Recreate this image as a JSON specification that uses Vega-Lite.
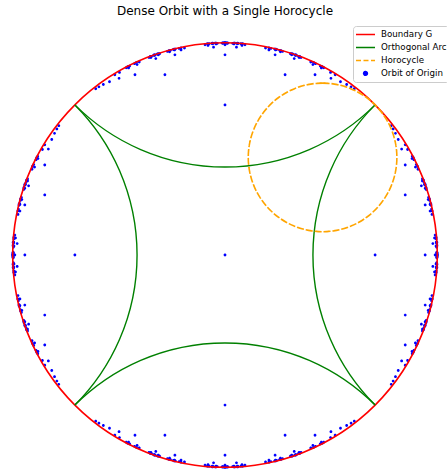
{
"$schema": "https://vega.github.io/schema/vega-lite/v6.json",
"width": 447, "height": 439,
"autosize": {"type": "none"},
"padding": {"left": 0, "right": 0, "top": 30, "bottom": 0},
"background": "white",
"title": {"text": "Dense Orbit with a Single Horocycle", "font": "DejaVu Sans", "fontSize": 12, "fontWeight": "normal", "color": "#000000", "anchor": "middle", "frame": "group", "baseline": "alphabetic", "offset": -1, "dx": 1.5},
"config": {"view": {"stroke": null}},
"layer": [
{
"data": {"values": [
{"x":0,"y":0},
{"x":0.7071,"y":0},{"x":-0.7071,"y":0},{"x":0,"y":0.7071},{"x":0,"y":-0.7071},
{"x":0.9428,"y":0},{"x":-0.9428,"y":0},{"x":0,"y":0.9428},{"x":0,"y":-0.9428},
{"x":0.99,"y":0},{"x":-0.99,"y":0},{"x":0,"y":0.99},{"x":0,"y":-0.99},
{"x":0.998,"y":0},{"x":-0.998,"y":0},{"x":0,"y":0.998},{"x":0,"y":-0.998},
{"x":0.9997,"y":0},{"x":-0.9997,"y":0},{"x":0,"y":0.9997},{"x":0,"y":-0.9997},
{"x":0.849,"y":0.283},{"x":0.849,"y":-0.283},{"x":-0.849,"y":0.283},{"x":-0.849,"y":-0.283},{"x":0.283,"y":0.849},{"x":-0.283,"y":0.849},{"x":0.283,"y":-0.849},{"x":-0.283,"y":-0.849},
{"x":0.979,"y":0.054},{"x":0.979,"y":-0.054},{"x":-0.979,"y":0.054},{"x":-0.979,"y":-0.054},{"x":0.054,"y":0.979},{"x":-0.054,"y":0.979},{"x":0.054,"y":-0.979},{"x":-0.054,"y":-0.979},
{"x":0.943,"y":0.236},{"x":0.943,"y":-0.236},{"x":-0.943,"y":0.236},{"x":-0.943,"y":-0.236},{"x":0.236,"y":0.943},{"x":-0.236,"y":0.943},{"x":0.236,"y":-0.943},{"x":-0.236,"y":-0.943},
{"x":0.925,"y":0.326},{"x":0.925,"y":-0.326},{"x":-0.925,"y":0.326},{"x":-0.925,"y":-0.326},{"x":0.326,"y":0.925},{"x":-0.326,"y":0.925},{"x":0.326,"y":-0.925},{"x":-0.326,"y":-0.925},
{"x":0.849,"y":0.424},{"x":0.849,"y":-0.424},{"x":-0.849,"y":0.424},{"x":-0.849,"y":-0.424},{"x":0.424,"y":0.849},{"x":-0.424,"y":0.849},{"x":0.424,"y":-0.849},{"x":-0.424,"y":-0.849},
{"x":0.997,"y":0.01},{"x":0.997,"y":-0.01},{"x":-0.997,"y":0.01},{"x":-0.997,"y":-0.01},{"x":0.01,"y":0.997},{"x":-0.01,"y":0.997},{"x":0.01,"y":-0.997},{"x":-0.01,"y":-0.997},
{"x":0.994,"y":0.042},{"x":0.994,"y":-0.042},{"x":-0.994,"y":0.042},{"x":-0.994,"y":-0.042},{"x":0.042,"y":0.994},{"x":-0.042,"y":0.994},{"x":0.042,"y":-0.994},{"x":-0.042,"y":-0.994},
{"x":0.995,"y":0.059},{"x":0.995,"y":-0.059},{"x":-0.995,"y":0.059},{"x":-0.995,"y":-0.059},{"x":0.059,"y":0.995},{"x":-0.059,"y":0.995},{"x":0.059,"y":-0.995},{"x":-0.059,"y":-0.995},
{"x":0.987,"y":0.08},{"x":0.987,"y":-0.08},{"x":-0.987,"y":0.08},{"x":-0.987,"y":-0.08},{"x":0.08,"y":0.987},{"x":-0.08,"y":0.987},{"x":0.08,"y":-0.987},{"x":-0.08,"y":-0.987},
{"x":0.94,"y":0.332},{"x":0.94,"y":-0.332},{"x":-0.94,"y":0.332},{"x":-0.94,"y":-0.332},{"x":0.332,"y":0.94},{"x":-0.332,"y":0.94},{"x":0.332,"y":-0.94},{"x":-0.332,"y":-0.94},
{"x":0.93,"y":0.349},{"x":0.93,"y":-0.349},{"x":-0.93,"y":0.349},{"x":-0.93,"y":-0.349},{"x":0.349,"y":0.93},{"x":-0.349,"y":0.93},{"x":0.349,"y":-0.93},{"x":-0.349,"y":-0.93},
{"x":0.943,"y":0.314},{"x":0.943,"y":-0.314},{"x":-0.943,"y":0.314},{"x":-0.943,"y":-0.314},{"x":0.314,"y":0.943},{"x":-0.314,"y":0.943},{"x":0.314,"y":-0.943},{"x":-0.314,"y":-0.943},
{"x":0.897,"y":0.414},{"x":0.897,"y":-0.414},{"x":-0.897,"y":0.414},{"x":-0.897,"y":-0.414},{"x":0.414,"y":0.897},{"x":-0.414,"y":0.897},{"x":0.414,"y":-0.897},{"x":-0.414,"y":-0.897},
{"x":0.881,"y":0.454},{"x":0.881,"y":-0.454},{"x":-0.881,"y":0.454},{"x":-0.881,"y":-0.454},{"x":0.454,"y":0.881},{"x":-0.454,"y":0.881},{"x":0.454,"y":-0.881},{"x":-0.454,"y":-0.881},
{"x":0.832,"y":0.499},{"x":0.832,"y":-0.499},{"x":-0.832,"y":0.499},{"x":-0.832,"y":-0.499},{"x":0.499,"y":0.832},{"x":-0.499,"y":0.832},{"x":0.499,"y":-0.832},{"x":-0.499,"y":-0.832},
{"x":0.957,"y":0.261},{"x":0.957,"y":-0.261},{"x":-0.957,"y":0.261},{"x":-0.957,"y":-0.261},{"x":0.261,"y":0.957},{"x":-0.261,"y":0.957},{"x":0.261,"y":-0.957},{"x":-0.261,"y":-0.957},
{"x":0.966,"y":0.238},{"x":0.966,"y":-0.238},{"x":-0.966,"y":0.238},{"x":-0.966,"y":-0.238},{"x":0.238,"y":0.966},{"x":-0.238,"y":0.966},{"x":0.238,"y":-0.966},{"x":-0.238,"y":-0.966},
{"x":0.966,"y":0.207},{"x":0.966,"y":-0.207},{"x":-0.966,"y":0.207},{"x":-0.966,"y":-0.207},{"x":0.207,"y":0.966},{"x":-0.207,"y":0.966},{"x":0.207,"y":-0.966},{"x":-0.207,"y":-0.966},
{"x":0.999,"y":0.002},{"x":0.999,"y":-0.002},{"x":-0.999,"y":0.002},{"x":-0.999,"y":-0.002},{"x":0.002,"y":0.999},{"x":-0.002,"y":0.999},{"x":0.002,"y":-0.999},{"x":-0.002,"y":-0.999},
{"x":0.999,"y":0.007},{"x":0.999,"y":-0.007},{"x":-0.999,"y":0.007},{"x":-0.999,"y":-0.007},{"x":0.007,"y":0.999},{"x":-0.007,"y":0.999},{"x":0.007,"y":-0.999},{"x":-0.007,"y":-0.999},
{"x":0.999,"y":0.01},{"x":0.999,"y":-0.01},{"x":-0.999,"y":0.01},{"x":-0.999,"y":-0.01},{"x":0.01,"y":0.999},{"x":-0.01,"y":0.999},{"x":0.01,"y":-0.999},{"x":-0.01,"y":-0.999},
{"x":0.998,"y":0.014},{"x":0.998,"y":-0.014},{"x":-0.998,"y":0.014},{"x":-0.998,"y":-0.014},{"x":0.014,"y":0.998},{"x":-0.014,"y":0.998},{"x":0.014,"y":-0.998},{"x":-0.014,"y":-0.998},
{"x":0.998,"y":0.059},{"x":0.998,"y":-0.059},{"x":-0.998,"y":0.059},{"x":-0.998,"y":-0.059},{"x":0.059,"y":0.998},{"x":-0.059,"y":0.998},{"x":0.059,"y":-0.998},{"x":-0.059,"y":-0.998},
{"x":0.997,"y":0.062},{"x":0.997,"y":-0.062},{"x":-0.997,"y":0.062},{"x":-0.997,"y":-0.062},{"x":0.062,"y":0.997},{"x":-0.062,"y":0.997},{"x":0.062,"y":-0.997},{"x":-0.062,"y":-0.997},
{"x":0.997,"y":0.056},{"x":0.997,"y":-0.056},{"x":-0.997,"y":0.056},{"x":-0.997,"y":-0.056},{"x":0.056,"y":0.997},{"x":-0.056,"y":0.997},{"x":0.056,"y":-0.997},{"x":-0.056,"y":-0.997},
{"x":0.995,"y":0.075},{"x":0.995,"y":-0.075},{"x":-0.995,"y":0.075},{"x":-0.995,"y":-0.075},{"x":0.075,"y":0.995},{"x":-0.075,"y":0.995},{"x":0.075,"y":-0.995},{"x":-0.075,"y":-0.995},
{"x":0.995,"y":0.083},{"x":0.995,"y":-0.083},{"x":-0.995,"y":0.083},{"x":-0.995,"y":-0.083},{"x":0.083,"y":0.995},{"x":-0.083,"y":0.995},{"x":0.083,"y":-0.995},{"x":-0.083,"y":-0.995},
{"x":0.99,"y":0.094},{"x":0.99,"y":-0.094},{"x":-0.99,"y":0.094},{"x":-0.99,"y":-0.094},{"x":0.094,"y":0.99},{"x":-0.094,"y":0.99},{"x":0.094,"y":-0.99},{"x":-0.094,"y":-0.99},
{"x":0.998,"y":0.046},{"x":0.998,"y":-0.046},{"x":-0.998,"y":0.046},{"x":-0.998,"y":-0.046},{"x":0.046,"y":0.998},{"x":-0.046,"y":0.998},{"x":0.046,"y":-0.998},{"x":-0.046,"y":-0.998},
{"x":0.998,"y":0.042},{"x":0.998,"y":-0.042},{"x":-0.998,"y":0.042},{"x":-0.998,"y":-0.042},{"x":0.042,"y":0.998},{"x":-0.042,"y":0.998},{"x":0.042,"y":-0.998},{"x":-0.042,"y":-0.998},
{"x":0.997,"y":0.036},{"x":0.997,"y":-0.036},{"x":-0.997,"y":0.036},{"x":-0.997,"y":-0.036},{"x":0.036,"y":0.997},{"x":-0.036,"y":0.997},{"x":0.036,"y":-0.997},{"x":-0.036,"y":-0.997},
{"x":0.942,"y":0.333},{"x":0.942,"y":-0.333},{"x":-0.942,"y":0.333},{"x":-0.942,"y":-0.333},{"x":0.333,"y":0.942},{"x":-0.333,"y":0.942},{"x":0.333,"y":-0.942},{"x":-0.333,"y":-0.942},
{"x":0.941,"y":0.336},{"x":0.941,"y":-0.336},{"x":-0.941,"y":0.336},{"x":-0.941,"y":-0.336},{"x":0.336,"y":0.941},{"x":-0.336,"y":0.941},{"x":0.336,"y":-0.941},{"x":-0.336,"y":-0.941},
{"x":0.943,"y":0.33},{"x":0.943,"y":-0.33},{"x":-0.943,"y":0.33},{"x":-0.943,"y":-0.33},{"x":0.33,"y":0.943},{"x":-0.33,"y":0.943},{"x":0.33,"y":-0.943},{"x":-0.33,"y":-0.943},
{"x":0.936,"y":0.346},{"x":0.936,"y":-0.346},{"x":-0.936,"y":0.346},{"x":-0.936,"y":-0.346},{"x":0.346,"y":0.936},{"x":-0.346,"y":0.936},{"x":0.346,"y":-0.936},{"x":-0.346,"y":-0.936},
{"x":0.946,"y":0.32},{"x":0.946,"y":-0.32},{"x":-0.946,"y":0.32},{"x":-0.946,"y":-0.32},{"x":0.32,"y":0.946},{"x":-0.32,"y":0.946},{"x":0.32,"y":-0.946},{"x":-0.32,"y":-0.946},
{"x":0.935,"y":0.352},{"x":0.935,"y":-0.352},{"x":-0.935,"y":0.352},{"x":-0.935,"y":-0.352},{"x":0.352,"y":0.935},{"x":-0.352,"y":0.935},{"x":0.352,"y":-0.935},{"x":-0.352,"y":-0.935},
{"x":0.948,"y":0.315},{"x":0.948,"y":-0.315},{"x":-0.948,"y":0.315},{"x":-0.948,"y":-0.315},{"x":0.315,"y":0.948},{"x":-0.315,"y":0.948},{"x":0.315,"y":-0.948},{"x":-0.315,"y":-0.948},
{"x":0.93,"y":0.358},{"x":0.93,"y":-0.358},{"x":-0.93,"y":0.358},{"x":-0.93,"y":-0.358},{"x":0.358,"y":0.93},{"x":-0.358,"y":0.93},{"x":0.358,"y":-0.93},{"x":-0.358,"y":-0.93},
{"x":0.948,"y":0.308},{"x":0.948,"y":-0.308},{"x":-0.948,"y":0.308},{"x":-0.948,"y":-0.308},{"x":0.308,"y":0.948},{"x":-0.308,"y":0.948},{"x":0.308,"y":-0.948},{"x":-0.308,"y":-0.948},
{"x":0.887,"y":0.458},{"x":0.887,"y":-0.458},{"x":-0.887,"y":0.458},{"x":-0.887,"y":-0.458},{"x":0.458,"y":0.887},{"x":-0.458,"y":0.887},{"x":0.458,"y":-0.887},{"x":-0.458,"y":-0.887},
{"x":0.97,"y":0.239},{"x":0.97,"y":-0.239},{"x":-0.97,"y":0.239},{"x":-0.97,"y":-0.239},{"x":0.239,"y":0.97},{"x":-0.239,"y":0.97},{"x":0.239,"y":-0.97},{"x":-0.239,"y":-0.97},
{"x":0.882,"y":0.465},{"x":0.882,"y":-0.465},{"x":-0.882,"y":0.465},{"x":-0.882,"y":-0.465},{"x":0.465,"y":0.882},{"x":-0.465,"y":0.882},{"x":0.465,"y":-0.882},{"x":-0.465,"y":-0.882},
{"x":0.97,"y":0.234},{"x":0.97,"y":-0.234},{"x":-0.97,"y":0.234},{"x":-0.97,"y":-0.234},{"x":0.234,"y":0.97},{"x":-0.234,"y":0.97},{"x":0.234,"y":-0.97},{"x":-0.234,"y":-0.97},
{"x":0.89,"y":0.449},{"x":0.89,"y":-0.449},{"x":-0.89,"y":0.449},{"x":-0.89,"y":-0.449},{"x":0.449,"y":0.89},{"x":-0.449,"y":0.89},{"x":0.449,"y":-0.89},{"x":-0.449,"y":-0.89},
{"x":0.968,"y":0.243},{"x":0.968,"y":-0.243},{"x":-0.968,"y":0.243},{"x":-0.968,"y":-0.243},{"x":0.243,"y":0.968},{"x":-0.243,"y":0.968},{"x":0.243,"y":-0.968},{"x":-0.243,"y":-0.968},
{"x":0.86,"y":0.497},{"x":0.86,"y":-0.497},{"x":-0.86,"y":0.497},{"x":-0.86,"y":-0.497},{"x":0.497,"y":0.86},{"x":-0.497,"y":0.86},{"x":0.497,"y":-0.86},{"x":-0.497,"y":-0.86},
{"x":0.973,"y":0.216},{"x":0.973,"y":-0.216},{"x":-0.973,"y":0.216},{"x":-0.973,"y":-0.216},{"x":0.216,"y":0.973},{"x":-0.216,"y":0.973},{"x":0.216,"y":-0.973},{"x":-0.216,"y":-0.973},
{"x":0.849,"y":0.519},{"x":0.849,"y":-0.519},{"x":-0.849,"y":0.519},{"x":-0.849,"y":-0.519},{"x":0.519,"y":0.849},{"x":-0.519,"y":0.849},{"x":0.519,"y":-0.849},{"x":-0.519,"y":-0.849},
{"x":0.976,"y":0.207},{"x":0.976,"y":-0.207},{"x":-0.976,"y":0.207},{"x":-0.976,"y":-0.207},{"x":0.207,"y":0.976},{"x":-0.207,"y":0.976},{"x":0.207,"y":-0.976},{"x":-0.207,"y":-0.976},
{"x":0.816,"y":0.544},{"x":0.816,"y":-0.544},{"x":-0.816,"y":0.544},{"x":-0.816,"y":-0.544},{"x":0.544,"y":0.816},{"x":-0.544,"y":0.816},{"x":0.544,"y":-0.816},{"x":-0.544,"y":-0.816},
{"x":0.975,"y":0.191},{"x":0.975,"y":-0.191},{"x":-0.975,"y":0.191},{"x":-0.975,"y":-0.191},{"x":0.191,"y":0.975},{"x":-0.191,"y":0.975},{"x":0.191,"y":-0.975},{"x":-0.191,"y":-0.975},
{"x":0.901,"y":0.426},{"x":0.901,"y":-0.426},{"x":-0.901,"y":0.426},{"x":-0.901,"y":-0.426},{"x":0.426,"y":0.901},{"x":-0.426,"y":0.901},{"x":0.426,"y":-0.901},{"x":-0.426,"y":-0.901},
{"x":0.964,"y":0.257},{"x":0.964,"y":-0.257},{"x":-0.964,"y":0.257},{"x":-0.964,"y":-0.257},{"x":0.257,"y":0.964},{"x":-0.257,"y":0.964},{"x":0.257,"y":-0.964},{"x":-0.257,"y":-0.964},
{"x":0.907,"y":0.417},{"x":0.907,"y":-0.417},{"x":-0.907,"y":0.417},{"x":-0.907,"y":-0.417},{"x":0.417,"y":0.907},{"x":-0.417,"y":0.907},{"x":0.417,"y":-0.907},{"x":-0.417,"y":-0.907},
{"x":0.963,"y":0.264},{"x":0.963,"y":-0.264},{"x":-0.963,"y":0.264},{"x":-0.963,"y":-0.264},{"x":0.264,"y":0.963},{"x":-0.264,"y":0.963},{"x":0.264,"y":-0.963},{"x":-0.264,"y":-0.963},
{"x":0.909,"y":0.404},{"x":0.909,"y":-0.404},{"x":-0.909,"y":0.404},{"x":-0.909,"y":-0.404},{"x":0.404,"y":0.909},{"x":-0.404,"y":0.909},{"x":0.404,"y":-0.909},{"x":-0.404,"y":-0.909},
{"x":0.959,"y":0.271},{"x":0.959,"y":-0.271},{"x":-0.959,"y":0.271},{"x":-0.959,"y":-0.271},{"x":0.271,"y":0.959},{"x":-0.271,"y":0.959},{"x":0.271,"y":-0.959},{"x":-0.271,"y":-0.959},
{"x":0.803,"y":0.573},{"x":0.803,"y":-0.573},{"x":-0.803,"y":0.573},{"x":-0.803,"y":-0.573},{"x":0.573,"y":0.803},{"x":-0.573,"y":0.803},{"x":0.573,"y":-0.803},{"x":-0.573,"y":-0.803},
{"x":0.792,"y":0.594},{"x":0.792,"y":-0.594},{"x":-0.792,"y":0.594},{"x":-0.792,"y":-0.594},{"x":0.594,"y":0.792},{"x":-0.594,"y":0.792},{"x":0.594,"y":-0.792},{"x":-0.594,"y":-0.792},
{"x":0.783,"y":0.609},{"x":0.783,"y":-0.609},{"x":-0.783,"y":0.609},{"x":-0.783,"y":-0.609},{"x":0.609,"y":0.783},{"x":-0.609,"y":0.783},{"x":0.609,"y":-0.783},{"x":-0.609,"y":-0.783}
]},
"mark": {"type": "point", "filled": true, "size": 196, "opacity": 1, "strokeWidth": 0},
"encoding": {
"x": {"field": "x", "type": "quantitative", "scale": {"domain": [-1.0598, 1.0457], "nice": false, "zero": false}, "axis": null},
"y": {"field": "y", "type": "quantitative", "scale": {"domain": [-1.008, 1.0598], "nice": false, "zero": false}, "axis": null},
"color": {"datum": "Orbit of Origin", "type": "nominal",
 "scale": {"domain": ["Boundary G", "Orthogonal Arc", "Horocycle", "Orbit of Origin"], "range": ["#ff0000", "#008000", "#ffa500", "#0000ff"]},
 "legend": {"title": null, "orient": "none", "legendX": 353, "legendY": -4, "columns": 1,
  "symbolType": "stroke", "symbolSize": 361, "symbolStrokeWidth": 1.5, "clipHeight": 12.8, "rowPadding": 0,
  "padding": 2, "labelOffset": 5, "labelFont": "DejaVu Sans", "labelFontSize": 8.7, "labelColor": "#000000",
  "strokeColor": "#cccccc", "fillColor": "rgba(255,255,255,0.8)", "cornerRadius": 3}},
"shape": {"datum": "Orbit of Origin", "type": "nominal",
 "scale": {"domain": ["Boundary G", "Orthogonal Arc", "Horocycle", "Orbit of Origin"], "range": ["stroke", "stroke", "stroke", "M-0.2,0A0.2,0.2,0,1,1,0.2,0A0.2,0.2,0,1,1,-0.2,0Z"]},
 "legend": {"title": null, "orient": "none", "legendX": 353, "legendY": -4, "columns": 1,
  "symbolSize": 361, "symbolStrokeWidth": 1.5, "clipHeight": 12.8, "rowPadding": 0,
  "padding": 2, "labelOffset": 5, "labelFont": "DejaVu Sans", "labelFontSize": 8.7, "labelColor": "#000000",
  "strokeColor": "#cccccc", "fillColor": "rgba(255,255,255,0.8)", "cornerRadius": 3}},
"strokeDash": {"datum": "Orbit of Origin", "type": "nominal",
 "scale": {"domain": ["Boundary G", "Orthogonal Arc", "Horocycle", "Orbit of Origin"], "range": [[1, 0], [1, 0], [5, 2.5], [1, 0]]},
 "legend": {"title": null, "orient": "none", "legendX": 353, "legendY": -4, "columns": 1,
  "symbolSize": 361, "symbolStrokeWidth": 1.5, "clipHeight": 12.8, "rowPadding": 0,
  "padding": 2, "labelOffset": 5, "labelFont": "DejaVu Sans", "labelFontSize": 8.7, "labelColor": "#000000",
  "strokeColor": "#cccccc", "fillColor": "rgba(255,255,255,0.8)", "cornerRadius": 3}}
}
},
{
"data": {"values": [{"cx": 0, "cy": 0, "r": 1, "t1": 0, "t2": 6.2832}]},
"mark": {"type": "arc", "filled": false, "strokeWidth": 1.6},
"encoding": {
"x": {"field": "cx", "type": "quantitative", "scale": {"domain": [-1.0598, 1.0457], "nice": false, "zero": false}, "axis": null},
"y": {"field": "cy", "type": "quantitative", "scale": {"domain": [-1.008, 1.0598], "nice": false, "zero": false}, "axis": null},
"theta": {"field": "t1", "type": "quantitative", "scale": null, "stack": null},
"theta2": {"field": "t2"},
"radius": {"field": "r", "type": "quantitative", "scale": {"type": "linear", "domain": [0, 1], "range": [0, 212.3], "zero": true}},
"radius2": {"field": "r"},
"color": {"datum": "Boundary G", "type": "nominal"}
}
},
{
"data": {"values": [
 {"cx": 0, "cy": 1.4142, "r": 1, "t1": 2.3562, "t2": 3.927},
 {"cx": 0, "cy": -1.4142, "r": 1, "t1": -0.7854, "t2": 0.7854},
 {"cx": 1.4142, "cy": 0, "r": 1, "t1": 3.927, "t2": 5.4978},
 {"cx": -1.4142, "cy": 0, "r": 1, "t1": 0.7854, "t2": 2.3562}
]},
"mark": {"type": "arc", "filled": false, "strokeWidth": 1.4},
"encoding": {
"x": {"field": "cx", "type": "quantitative", "scale": {"domain": [-1.0598, 1.0457], "nice": false, "zero": false}, "axis": null},
"y": {"field": "cy", "type": "quantitative", "scale": {"domain": [-1.008, 1.0598], "nice": false, "zero": false}, "axis": null},
"theta": {"field": "t1", "type": "quantitative", "scale": null, "stack": null},
"theta2": {"field": "t2"},
"radius": {"field": "r", "type": "quantitative", "scale": {"type": "linear", "domain": [0, 1], "range": [0, 212.3], "zero": true}},
"radius2": {"field": "r"},
"color": {"datum": "Orthogonal Arc", "type": "nominal"}
}
},
{
"data": {"values": [{"cx": 0.4596, "cy": 0.4596, "r": 0.35, "t1": 0, "t2": 6.2832}]},
"mark": {"type": "arc", "filled": false, "strokeWidth": 1.6, "strokeDash": [6, 3]},
"encoding": {
"x": {"field": "cx", "type": "quantitative", "scale": {"domain": [-1.0598, 1.0457], "nice": false, "zero": false}, "axis": null},
"y": {"field": "cy", "type": "quantitative", "scale": {"domain": [-1.008, 1.0598], "nice": false, "zero": false}, "axis": null},
"theta": {"field": "t1", "type": "quantitative", "scale": null, "stack": null},
"theta2": {"field": "t2"},
"radius": {"field": "r", "type": "quantitative", "scale": {"type": "linear", "domain": [0, 1], "range": [0, 212.3], "zero": true}},
"radius2": {"field": "r"},
"color": {"datum": "Horocycle", "type": "nominal"}
}
}
]
}
